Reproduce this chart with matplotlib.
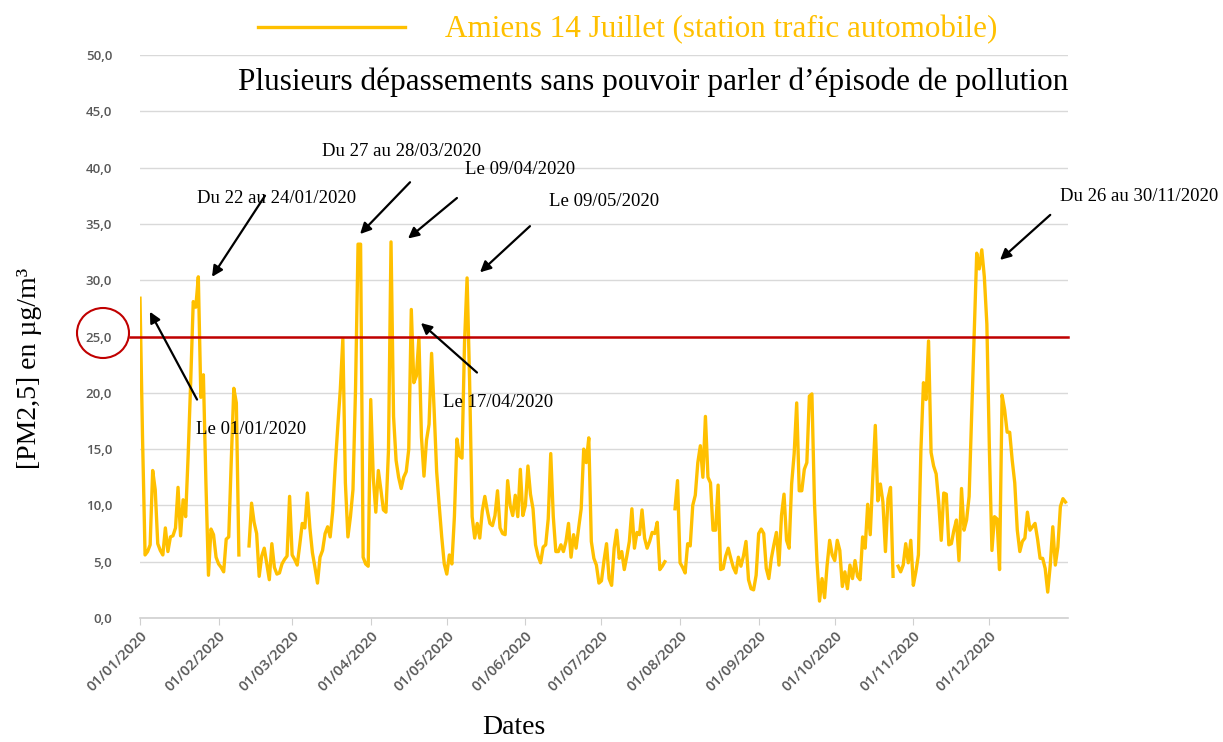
import numpy as np
import pandas as pd
import matplotlib
matplotlib.use("Agg")
import matplotlib.pyplot as plt
import matplotlib.dates as mdates
from matplotlib.patches import Ellipse
from matplotlib.ticker import FuncFormatter

nan = np.nan

# daily PM2.5 values (µg/m3), nan = missing day
jan = [28.4, 16.0, 5.6, 5.9, 6.5, 13.1, 11.4, 6.6, 6.0, 5.6,
       8.0, 5.9, 7.2, 7.3, 8.0, 11.6, 7.3, 10.5, 9.0, 14.5,
       21.0, 28.1, 27.6, 30.3, 19.6, 21.6, 12.0, 3.8, 7.9, 7.4, 5.4]
feb = [4.8, 4.5, 4.1, 7.0, 7.2, 14.0, 20.4, 19.1, 5.6, nan,
       nan, nan, 6.4, 10.2, 8.5, 7.5, 3.7, 5.5, 6.2, 4.8,
       3.4, 6.6, 4.5, 3.9, 4.0, 4.8, 5.2, 5.5, 10.8]
mar = [5.6, 5.2, 4.7, 6.5, 8.4, 8.0, 11.1, 8.0, 5.8, 4.5,
       3.1, 5.4, 6.0, 7.5, 8.1, 7.2, 9.5, 13.5, 17.0, 20.3,
       24.8, 12.0, 7.2, 9.0, 11.4, 20.3, 33.2, 33.2, 5.4, 4.8, 4.6]
apr = [19.4, 12.5, 9.4, 13.1, 11.4, 9.6, 9.4, 14.9, 33.4, 17.9,
       14.0, 12.5, 11.5, 12.5, 13.0, 15.0, 27.4, 20.9, 21.5, 24.9,
       16.1, 12.6, 15.8, 17.2, 23.5, 18.5, 13.0, 10.0, 7.2, 4.8]
may = [3.9, 5.6, 4.8, 9.0, 15.9, 14.4, 14.2, 24.5, 30.2, 21.0,
       9.0, 7.1, 8.4, 7.1, 9.5, 10.8, 9.5, 8.4, 8.2, 9.1,
       11.3, 8.0, 7.5, 7.4, 12.2, 10.0, 9.1, 10.9, 9.0, 13.2, 9.1]
jun = [10.0, 13.5, 11.0, 9.7, 6.5, 5.5, 4.9, 6.3, 6.5, 8.8,
       14.6, 9.0, 5.9, 5.9, 6.5, 5.9, 6.8, 8.4, 5.4, 7.4,
       6.2, 8.0, 9.7, 15.0, 13.8, 16.0, 6.8, 5.3, 4.7, 3.1]
jul = [3.3, 5.1, 6.6, 3.5, 2.9, 6.2, 7.8, 5.3, 5.9, 4.3,
       5.5, 6.8, 9.7, 6.2, 7.6, 7.4, 9.6, 7.1, 6.2, 6.8,
       7.6, 7.5, 8.5, 4.3, 4.6, 5.0, nan, nan, nan, 9.7, 12.2]
aug = [4.9, 4.5, 4.0, 6.6, 6.4, 10.0, 10.9, 13.8, 15.3, 12.5,
       17.9, 12.5, 12.0, 7.8, 7.8, 11.8, 4.3, 4.4, 5.5, 6.2,
       5.3, 4.5, 4.0, 5.4, 4.6, 5.5, 6.8, 3.4, 2.6, 2.5, 3.8]
sep = [7.5, 7.9, 7.5, 4.4, 3.5, 5.3, 6.5, 7.6, 4.7, 9.1,
       11.0, 6.9, 6.2, 11.9, 14.6, 19.1, 11.3, 11.3, 13.2, 13.8,
       19.7, 19.9, 10.3, 5.0, 1.5, 3.5, 1.8, 4.7, 6.9, 5.6]
oct_ = [5.1, 6.9, 6.0, 2.8, 4.1, 2.6, 4.7, 3.5, 5.1, 3.7,
        3.4, 7.2, 6.2, 10.1, 7.4, 12.4, 17.1, 10.4, 11.9, 10.3,
        5.9, 10.6, 11.6, 3.7, nan, 4.6, 4.1, 4.7, 6.6, 4.9, 6.9]
nov = [2.9, 4.1, 5.6, 15.0, 20.9, 19.4, 24.6, 14.7, 13.5, 12.8,
       10.3, 6.9, 11.1, 11.0, 6.5, 6.6, 7.8, 8.7, 5.1, 11.5,
       7.8, 8.7, 10.8, 17.9, 25.3, 32.4, 31.0, 32.7, 30.3, 26.1]
dec = [14.9, 6.0, 9.0, 8.8, 4.3, 19.8, 18.5, 16.5, 16.5, 14.0,
       12.0, 7.8, 5.9, 6.8, 7.1, 9.4, 7.8, 8.1, 8.4, 7.0,
       5.3, 5.3, 4.4, 2.3, 4.7, 8.1, 4.7, 6.3, 9.9, 10.6, 10.3]

values = jan + feb + mar + apr + may + jun + jul + aug + sep + oct_ + nov + dec
dates = pd.date_range("2020-01-01", "2020-12-31", freq="D")
assert len(values) == len(dates)

threshold = 25.0
series_label = "Amiens 14 Juillet (station trafic automobile)"
title = "Plusieurs dépassements sans pouvoir parler d’épisode de pollution"
ylabel = "[PM2,5] en µg/m³"
xlabel = "Dates"

# label, text (day, value), arrow tail (day, value), arrow head (day, value)
notes = [
    ("Le 01/01/2020", (22.1, 16.7), (22.5, 19.4), (3.9, 27.2)),
    ("Du 22 au 24/01/2020", (22.5, 37.3), (49.3, 37.5), (28.4, 30.3)),
    ("Du 27 au 28/03/2020", (71.8, 41.4), (106.5, 38.7), (86.8, 34.1)),
    ("Le 09/04/2020", (128.2, 39.8), (125.0, 37.3), (105.7, 33.7)),
    ("Le 09/05/2020", (161.3, 37.0), (153.8, 34.8), (134.1, 30.7)),
    ("Le 17/04/2020", (119.5, 19.1), (132.9, 21.8), (110.8, 26.2)),
    ("Du 26 au 30/11/2020", (362.9, 37.4), (359.0, 35.8), (339.2, 31.8)),
]

SERIF = "Liberation Serif"
GOLD = "#FFC000"
GRAY = "#595959"

fig = plt.figure(figsize=(12.23, 7.42), dpi=100)
ax = fig.add_axes([140 / 1223, 1 - 618 / 742, 928 / 1223, 563 / 742])

ax.plot(dates, values, color=GOLD, lw=2.4, label=series_label)
ax.axhline(threshold, xmin=-0.011, xmax=1, color="#C00000", lw=1.8, clip_on=False)

ax.set_ylim(0, 50)
ax.set_xlim(dates[0], dates[-1] + pd.Timedelta(days=1))
ax.set_yticks(np.arange(0, 51, 5))
ax.yaxis.set_major_formatter(FuncFormatter(lambda v, _: f"{v:.1f}".replace(".", ",")))
months = pd.date_range("2020-01-01", "2020-12-01", freq="MS")
ax.set_xticks(months)
ax.set_xticklabels([m.strftime("%d/%m/%Y") for m in months], rotation=45,
                   ha="right", va="top", rotation_mode="anchor")

ax.grid(axis="y", color="#D9D9D9", lw=1)
ax.set_axisbelow(True)
for s in ["top", "right", "left"]:
    ax.spines[s].set_visible(False)
ax.spines["bottom"].set_color("#D0D0D0")
ax.spines["bottom"].set_linewidth(1.2)
ax.tick_params(axis="y", length=0, pad=20, labelsize=9.5, labelcolor=GRAY)
ax.tick_params(axis="x", length=5, color="#D0D0D0", pad=3, labelsize=10.5, labelcolor=GRAY)
for lab in ax.get_xticklabels() + ax.get_yticklabels():
    lab.set_family("Open Sans")
    lab.set_weight("semibold")

t0 = dates[0]
def to_xy(p):
    return (mdates.date2num(t0 + pd.Timedelta(days=p[0])), p[1])

for label, txt, tail, head in notes:
    ax.annotate("", xy=to_xy(head), xytext=to_xy(tail), annotation_clip=False,
                arrowprops=dict(arrowstyle="-|>", color="black", lw=1.6, mutation_scale=16,
                                shrinkA=0, shrinkB=0))
    ax.text(*to_xy(txt), label, family=SERIF, fontsize=13.5, ha="left", va="center",
            clip_on=False)

ring = Ellipse((103 / 1223, 1 - 333 / 742), width=52 / 1223, height=50 / 742,
               transform=fig.transFigure, fill=False, edgecolor="#C00000", lw=1.5)
fig.patches.append(ring)

leg = ax.legend(loc="center", bbox_to_anchor=(628 / 1223, 1 - 30 / 742),
                bbox_transform=fig.transFigure, frameon=False, handlelength=4.7,
                handletextpad=1.3, prop={"family": SERIF, "size": 22.4}, labelcolor=GOLD)

fig.text(238 / 1223, 1 - 82 / 742, title, family=SERIF, fontsize=22.5, ha="left", va="center")
fig.text(30 / 1223, 1 - 368 / 742, ylabel, family=SERIF, fontsize=20, rotation=90,
         ha="center", va="center")
fig.text(514 / 1223, 1 - 728 / 742, xlabel, family=SERIF, fontsize=20, ha="center", va="center")

fig.savefig("out.png", dpi=100)
